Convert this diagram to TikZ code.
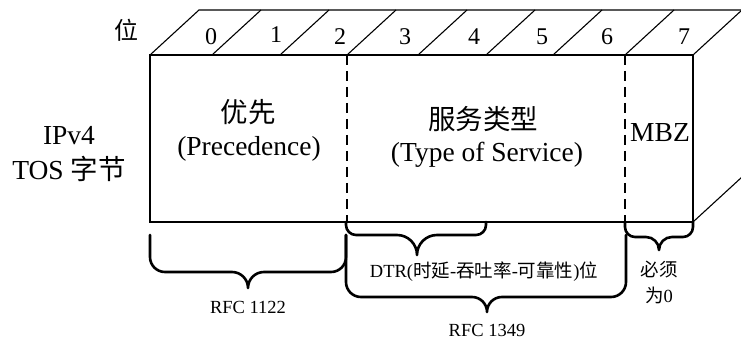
\documentclass[tikz,border=0pt]{standalone}
\usepackage{fontspec}
\setmainfont{Liberation Serif}
\newfontfamily\cjk{Noto Sans CJK SC}
% x1, x2, ytop, ymid, xtip, ytip, corner radius  (y measured downwards)
\newcommand{\tosbrace}[7]{%
  \draw[bracestyle] (#1,-#3) -- (#1,-#4+#7) to[out=-90,in=180] (#1+#7,-#4)
    -- (#5-#6+#4,-#4) to[out=0,in=90] (#5,-#6) to[out=90,in=180] (#5+#6-#4,-#4)
    -- (#2-#7,-#4) to[out=0,in=-90] (#2,-#4+#7) -- (#2,-#3);}
\begin{document}
\begin{tikzpicture}[x=1pt,y=1pt,
  edge/.style={line width=1.1pt, line join=miter},
  dashline/.style={line width=1.1pt, dash pattern=on 10pt off 6pt},
  bracestyle/.style={line width=2.6pt, line join=round, line cap=round},
  big/.style={font=\fontsize{27.5}{32}\selectfont, anchor=base, inner sep=0pt},
  bitnum/.style={font=\fontsize{24}{28}\selectfont, anchor=base, inner sep=0pt},
  small/.style={font=\fontsize{18.5}{22}\selectfont, anchor=base, inner sep=0pt}]
\useasboundingbox (0,0) rectangle (741,-339);

% front face
\draw[edge] (150,-55) rectangle (693,-222);
% top face
\draw[edge] (150,-55) -- (199,-10) -- (745,-10);
\foreach \x in {212,280,347,418,486,553,625}
  \draw[edge] (\x,-55) -- (\x+49,-10);
% right face
\draw[edge] (693,-55) -- (742,-10);
\draw[edge] (693,-222) -- (742,-177);
% field boundaries
\draw[dashline] (347,-55) -- (347,-222);
\draw[dashline] (625,-55) -- (625,-222);

% bit numbers
\node[font=\cjk\fontsize{24}{28}\selectfont, anchor=base, inner sep=0pt] (wei) at (126,-40) {位};
\node[bitnum] (b0) at (211,-45) {0};
\node[bitnum] (b1) at (276,-43) {1};
\node[bitnum] (b2) at (340,-45) {2};
\node[bitnum] (b3) at (405,-45) {3};
\node[bitnum] (b4) at (474,-45) {4};
\node[bitnum] (b5) at (542,-45) {5};
\node[bitnum] (b6) at (607,-45) {6};
\node[bitnum] (b7) at (684,-45) {7};

% field labels
\node[big] (ipv4) at (69,-145) {IPv4};
\node[big] (tosb) at (69,-180) {TOS {\cjk 字节}};
\node[big] (yx) at (248,-123) {\cjk 优先};
\node[big] (prec) at (249,-156) {(Precedence)};
\node[big] (fwlx) at (483,-130) {\cjk 服务类型};
\node[big] (tosvc) at (487,-162) {(Type of Service)};
\node[big] (mbz) at (660,-142) {MBZ};

% braces
\tosbrace{150}{346}{235}{272}{248}{288}{15}
\tosbrace{346}{626}{235}{297}{487}{312}{15}
\tosbrace{346}{486}{222}{235}{417}{255}{10}
\tosbrace{625}{693}{222}{237}{659}{250}{10}

% brace labels
\node[small] (rfc1122) at (248,-313) {RFC 1122};
\node[small] (dtr) at (484,-277) {DTR({\cjk 时延}-{\cjk 吞吐率}-{\cjk 可靠性}){\cjk 位}};
\node[small] (rfc1349) at (487,-336) {RFC 1349};
\node[small] (bx) at (659,-276) {\cjk 必须};
\node[small] (w0) at (659,-302) {{\cjk 为}0};
\end{tikzpicture}
\end{document}
